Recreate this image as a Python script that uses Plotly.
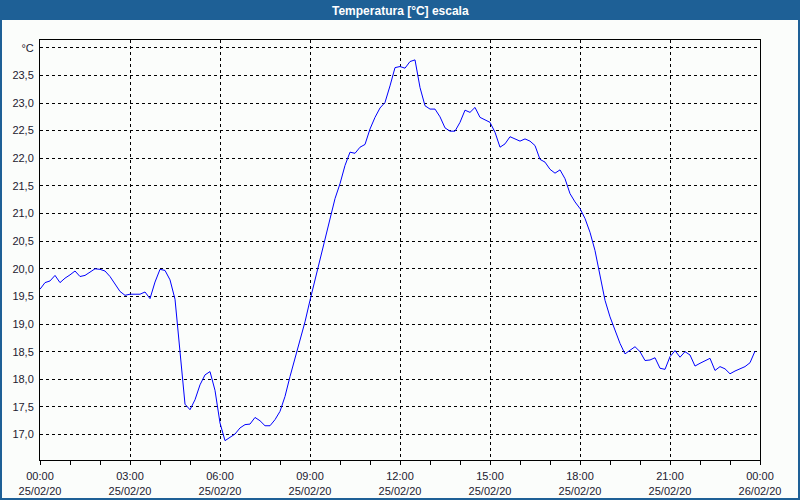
import pandas as pd
import plotly.graph_objects as go

# ---- data ----
start_time = "2020-02-25 00:00"
end_time = "2020-02-26 00:00"
temperature = [
    19.63, 19.75, 19.78, 19.88, 19.75, 19.83, 19.89, 19.96, 19.86, 19.88,
    19.94, 20.00, 19.99, 19.96, 19.86, 19.73, 19.59, 19.52, 19.54, 19.54,
    19.54, 19.58, 19.46, 19.76, 19.99, 19.97, 19.80, 19.45, 18.53, 17.55,
    17.45, 17.63, 17.90, 18.08, 18.14, 17.80, 17.21, 16.89, 16.95, 17.01,
    17.12, 17.18, 17.19, 17.31, 17.25, 17.16, 17.16, 17.27, 17.42, 17.69,
    18.05, 18.38, 18.74, 19.04, 19.43, 19.80, 20.15, 20.51, 20.88, 21.27,
    21.54, 21.87, 22.11, 22.09, 22.20, 22.25, 22.53, 22.74, 22.91, 23.01,
    23.31, 23.64, 23.66, 23.63, 23.75, 23.78, 23.28, 22.95, 22.89, 22.89,
    22.75, 22.55, 22.49, 22.49, 22.65, 22.87, 22.83, 22.92, 22.74, 22.70,
    22.65, 22.47, 22.20, 22.26, 22.39, 22.35, 22.31, 22.35, 22.31, 22.23,
    21.98, 21.93, 21.80, 21.73, 21.79, 21.63, 21.36, 21.21, 21.09, 20.91,
    20.66, 20.33, 19.90, 19.43, 19.13, 18.89, 18.65, 18.46, 18.53, 18.59,
    18.50, 18.34, 18.35, 18.39, 18.20, 18.18, 18.41, 18.52, 18.40, 18.50,
    18.44, 18.24, 18.29, 18.34, 18.38, 18.16, 18.23, 18.19, 18.10, 18.15,
    18.19, 18.23, 18.30, 18.51,
]
times = pd.date_range(start_time, periods=len(temperature), freq="10min")

y_tick_values = [17.0, 17.5, 18.0, 18.5, 19.0, 19.5, 20.0, 20.5, 21.0,
                 21.5, 22.0, 22.5, 23.0, 23.5, 24.0]
y_tick_labels = ["17,0", "17,5", "18,0", "18,5", "19,0", "19,5", "20,0",
                 "20,5", "21,0", "21,5", "22,0", "22,5", "23,0", "23,5", "°C"]
title_text = "Temperatura [°C] escala"

# ---- figure ----
W, H = 800, 500
L, R, T, B = 40, 40, 40, 40
bg = "#FBFDFB"
frame_blue = "#1E6096"
label_color = "#1c2030"

def px_x(p):
    return (p - L) / (W - L - R)

def px_y(p):
    return (H - B - p) / (H - T - B)

fig = go.Figure()
fig.add_trace(go.Scatter(
    x=times, y=temperature, mode="lines",
    line=dict(color="#0000FF", width=1),
    hoverinfo="x+y", showlegend=False,
))

fig.update_layout(
    width=W, height=H,
    margin=dict(l=L, r=R, t=T, b=B, pad=0, autoexpand=False),
    paper_bgcolor=bg, plot_bgcolor=bg,
    font=dict(family="Liberation Sans, Arial, sans-serif", size=11, color=label_color),
    showlegend=False,
)

fig.update_xaxes(
    type="date",
    range=[start_time, end_time],
    tickmode="linear", tick0=start_time, dtick=3 * 3600 * 1000,
    tickformat="%H:%M<br>%d/%m/%y",
    ticks="outside", ticklen=4, tickcolor="black", tickwidth=1,
    ticklabelstandoff=2,
    showgrid=True, gridcolor="black", gridwidth=1, griddash="3px,3px",
    minor=dict(dtick=3600 * 1000, ticks="outside", ticklen=4,
               tickcolor="black", showgrid=False),
    showline=True, linecolor="black", linewidth=1, mirror=True,
    zeroline=False, fixedrange=True, automargin=False,
)
fig.update_yaxes(
    range=[16.54, 24.14],
    tickmode="array", tickvals=y_tick_values, ticktext=y_tick_labels,
    ticks="", ticklabelstandoff=3,
    showgrid=True, gridcolor="black", gridwidth=1, griddash="3px,3px",
    showline=True, linecolor="black", linewidth=1, mirror=True,
    zeroline=False, fixedrange=True, automargin=False,
)

shapes = [
    # title bar
    dict(type="rect", xref="paper", yref="paper",
         x0=px_x(0), x1=px_x(W), y0=px_y(20), y1=px_y(0),
         fillcolor=frame_blue, line=dict(width=0), layer="above"),
    # left border
    dict(type="rect", xref="paper", yref="paper",
         x0=px_x(0), x1=px_x(2), y0=px_y(H), y1=px_y(0),
         fillcolor=frame_blue, line=dict(width=0), layer="above"),
    # right border
    dict(type="rect", xref="paper", yref="paper",
         x0=px_x(W - 2), x1=px_x(W), y0=px_y(H), y1=px_y(0),
         fillcolor=frame_blue, line=dict(width=0), layer="above"),
    # bottom border
    dict(type="rect", xref="paper", yref="paper",
         x0=px_x(0), x1=px_x(W), y0=px_y(H), y1=px_y(H - 2),
         fillcolor=frame_blue, line=dict(width=0), layer="above"),
]
fig.update_layout(shapes=shapes)

fig.add_annotation(
    xref="paper", yref="paper", x=px_x(W / 2), y=px_y(10.5),
    text="<b>" + title_text + "</b>", showarrow=False,
    xanchor="center", yanchor="middle",
    font=dict(family="Liberation Sans, Arial, sans-serif", size=12, color="white"),
)

fig.write_html("out.html", config={"displayModeBar": False})
